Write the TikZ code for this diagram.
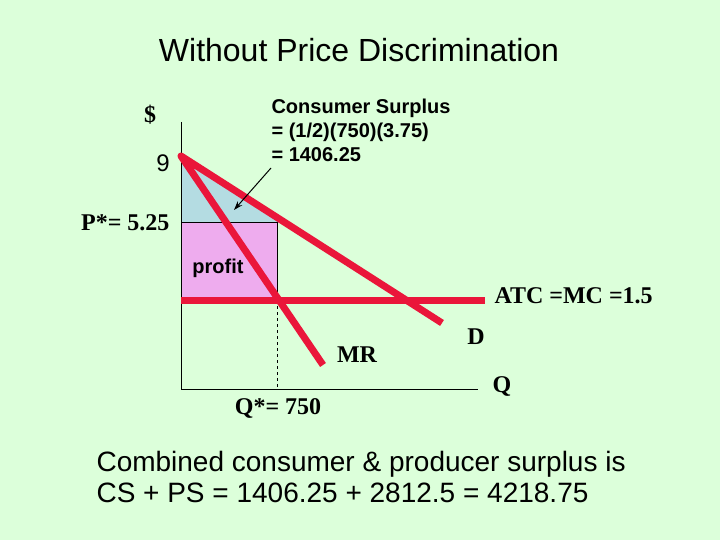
\documentclass[tikz,border=0pt]{standalone}
\usepackage{fontspec}
\setmainfont{Liberation Sans}
\newfontfamily\timesfont{Liberation Serif}
\usetikzlibrary{arrows.meta}
\usetikzlibrary{positioning}

\definecolor{slidebg}{RGB}{220,255,218}
\definecolor{curvered}{RGB}{234,22,58}
\definecolor{csblue}{RGB}{180,220,226}
\definecolor{profitpink}{RGB}{238,172,238}

\tikzset{
    curve/.style={curvered, line width=7pt},
    axis/.style={black, line width=1pt},
    serlabel/.style={font=\timesfont\bfseries\fontsize{24}{28}\selectfont},
    sanslabel/.style={font=\bfseries\fontsize{20}{24}\selectfont, align=left}
}

\begin{document}
\begin{tikzpicture}[x=1pt, y=-1pt]
            \fill[slidebg] (0,0) rectangle (720,540);
            \useasboundingbox (0,0) rectangle (720,540);

            % points of the graph
            \coordinate (top) at (181,156);
            \coordinate (origin) at (181,389);
            \coordinate (yend) at (181,122);
            \coordinate (xend) at (478,389);
            \coordinate (pstar) at (181,223);
            \coordinate (dpstar) at (288,223);
            \coordinate (boxtop) at (277,223);
            \coordinate (boxbot) at (277,300);
            \coordinate (atcstart) at (181,300);
            \coordinate (atcend) at (485,300);
            \coordinate (qstar) at (277,389);
            \coordinate (dend) at (442,323);
            \coordinate (mrend) at (323,365);

            % areas
            \fill[csblue] (top) -- (pstar) -- (dpstar) -- cycle;
            \fill[profitpink] (pstar) rectangle (boxbot);
            \draw[line width=1pt] (pstar) -- (boxtop) -- (boxbot);
            \draw[dashed, line width=0.8pt, dash pattern=on 3pt off 3pt] (boxbot) -- (qstar);

            % axes
            \draw[axis] (yend) -- (origin) -- (xend);

            % curves
            \draw[curve] (atcstart) -- (atcend);
            \draw[curve, line join=round] (dend) -- (top) -- (mrend);

            % labels
            \node[serlabel] (dollar) at (150,115) {\$};
            \node[font=\fontsize{24}{28}\selectfont] (nine) at (163,163) {9};
            \node[serlabel, anchor=east] (plabel) at (173,223) {P*= 5.25};
            \node[sanslabel, anchor=west] (cstext) at (268,130) {Consumer Surplus\\= (1/2)(750)(3.75)\\= 1406.25};
            \node[sanslabel] (profit) at (218,268) {profit};
            \node[serlabel, anchor=west] (atc) at (491,296) {ATC =MC =1.5};
            \node[serlabel] (dlabel) at (476,337) {D};
            \node[serlabel] (mrlabel) at (357,355) {MR};
            \node[serlabel] (qlabel) at (502,386) {Q};
            \node[serlabel] (qslabel) at (278,408) {Q*= 750};

            \coordinate (csfrom) at (271,168);
            \coordinate (csto) at (234,210);
            \draw[-{Stealth[length=9pt, width=6pt]}, line width=1pt] (csfrom) -- (csto);

            % title and sum
            \node[font=\fontsize{32}{38}\selectfont] (title) at (359,50) {Without Price Discrimination};
            \node[font=\fontsize{28}{31}\selectfont, align=left, anchor=west] (sum) at (93,477)
                {Combined consumer \& producer surplus is\\CS + PS = 1406.25 + 2812.5 = 4218.75};
        \end{tikzpicture}
\end{document}
